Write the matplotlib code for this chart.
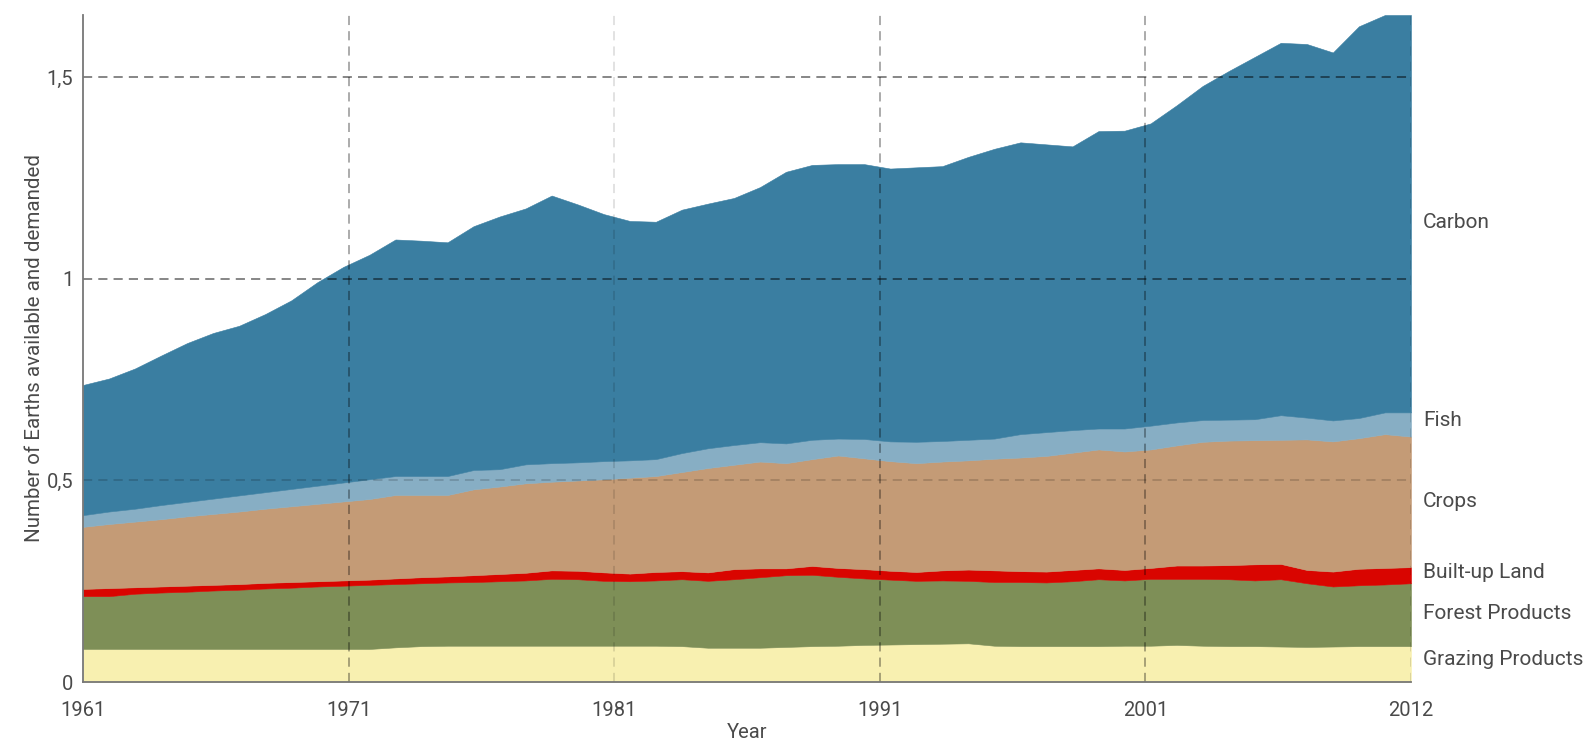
import numpy as np
import matplotlib
matplotlib.use("Agg")
import matplotlib.pyplot as plt
import matplotlib.transforms as mtransforms

plt.rcParams['font.family'] = ['Roboto', 'DejaVu Sans']

years = list(range(1961, 2013))

grazing = [0.082, 0.082, 0.082, 0.082, 0.082, 0.082, 0.082, 0.082, 0.082, 0.082,
           0.082, 0.082, 0.086, 0.089, 0.090, 0.090, 0.090, 0.090, 0.090, 0.090,
           0.090, 0.090, 0.090, 0.089, 0.085, 0.085, 0.085, 0.087, 0.089, 0.090,
           0.092, 0.093, 0.094, 0.095, 0.096, 0.090, 0.089, 0.089, 0.089, 0.089,
           0.090, 0.090, 0.092, 0.090, 0.089, 0.089, 0.088, 0.087, 0.088, 0.089,
           0.089, 0.089]

forest = [0.131, 0.131, 0.137, 0.140, 0.142, 0.145, 0.147, 0.150, 0.152, 0.155,
          0.157, 0.159, 0.157, 0.156, 0.157, 0.158, 0.160, 0.162, 0.166, 0.165,
          0.161, 0.160, 0.162, 0.166, 0.166, 0.170, 0.175, 0.178, 0.177, 0.171,
          0.165, 0.161, 0.157, 0.157, 0.155, 0.158, 0.159, 0.158, 0.161, 0.166,
          0.162, 0.166, 0.164, 0.166, 0.166, 0.163, 0.167, 0.158, 0.149, 0.151,
          0.153, 0.156]

builtup = [0.018, 0.020, 0.016, 0.015, 0.015, 0.014, 0.014, 0.014, 0.014, 0.013,
           0.013, 0.013, 0.014, 0.015, 0.015, 0.017, 0.018, 0.019, 0.021, 0.021,
           0.021, 0.019, 0.021, 0.020, 0.021, 0.025, 0.022, 0.017, 0.022, 0.022,
           0.023, 0.022, 0.022, 0.025, 0.028, 0.029, 0.027, 0.027, 0.028, 0.027,
           0.026, 0.027, 0.033, 0.033, 0.035, 0.040, 0.038, 0.033, 0.037, 0.041,
           0.041, 0.040]

crops = [0.154, 0.159, 0.163, 0.167, 0.172, 0.176, 0.180, 0.184, 0.188, 0.192,
         0.196, 0.200, 0.207, 0.204, 0.202, 0.213, 0.217, 0.222, 0.220, 0.224,
         0.231, 0.238, 0.238, 0.246, 0.259, 0.259, 0.265, 0.261, 0.265, 0.279,
         0.275, 0.272, 0.270, 0.270, 0.271, 0.277, 0.282, 0.287, 0.291, 0.295,
         0.294, 0.294, 0.298, 0.307, 0.309, 0.308, 0.308, 0.324, 0.323, 0.324,
         0.332, 0.324]

fish = [0.029, 0.031, 0.032, 0.035, 0.036, 0.038, 0.040, 0.041, 0.043, 0.045,
        0.047, 0.049, 0.047, 0.047, 0.047, 0.048, 0.043, 0.047, 0.046, 0.045,
        0.045, 0.043, 0.042, 0.047, 0.049, 0.049, 0.048, 0.049, 0.048, 0.042,
        0.048, 0.049, 0.053, 0.051, 0.051, 0.050, 0.058, 0.059, 0.056, 0.052,
        0.057, 0.059, 0.057, 0.054, 0.052, 0.052, 0.061, 0.054, 0.052, 0.050,
        0.054, 0.060]

carbon = [0.323, 0.330, 0.348, 0.371, 0.394, 0.411, 0.421, 0.442, 0.468, 0.505,
          0.535, 0.557, 0.587, 0.584, 0.580, 0.605, 0.627, 0.635, 0.664, 0.640,
          0.613, 0.594, 0.589, 0.604, 0.607, 0.613, 0.633, 0.674, 0.682, 0.681,
          0.682, 0.677, 0.681, 0.682, 0.702, 0.719, 0.724, 0.714, 0.704, 0.738,
          0.739, 0.750, 0.787, 0.829, 0.865, 0.899, 0.924, 0.927, 0.913, 0.972,
          0.986, 0.986]

series_names = ["Grazing Products", "Forest Products", "Built-up Land", "Crops", "Fish", "Carbon"]
series_colors = ["#f8f0b0", "#7e8f57", "#d90500", "#c49b76", "#87aec4", "#3a7ea1"]
label_y = [0.055, 0.171, 0.272, 0.449, 0.650, 1.139]

xtick_labels = ["1961", "1971", "1981", "1991", "2001", "2012"]
ytick_values = [0, 0.5, 1, 1.5]
ytick_labels = ["0", "0,5", "1", "1,5"]

fig = plt.figure(figsize=(15.89, 7.46), dpi=100)
ax = fig.add_axes([83 / 1589, 1 - 682 / 746, (1411 - 83) / 1589, (682 - 15) / 746])

ax.stackplot(years, grazing, forest, builtup, crops, fish, carbon,
             colors=series_colors, edgecolor='face', linewidth=0.4, zorder=1)

ax.set_xlim(years[0], years[-1])
ax.set_ylim(0, 1.655)

xticks = np.linspace(years[0], years[-1], len(xtick_labels))
ax.set_xticks(xticks)
ax.set_xticklabels(xtick_labels)
ax.set_yticks(ytick_values)
ax.set_yticklabels(ytick_labels)

text_color = "#4a4a4a"
ax.tick_params(axis='both', length=0, labelsize=14.5, colors=text_color)
ax.tick_params(axis='x', pad=14)
ax.tick_params(axis='y', pad=7)

# grid lines on top of areas
faint = {2, 5}
for k, xv in enumerate(xticks):
    if k == 0:
        continue
    a = 0.15 if k in faint else 0.42
    ax.axvline(xv, color='black', alpha=a, lw=1.1, dashes=(6, 4), zorder=3)
for yv in ytick_values[1:]:
    a = 0.2 if yv == 0.5 else 0.6
    ax.axhline(yv, color='black', alpha=a, lw=1.1, dashes=(6, 4), zorder=3)

for s in ['top', 'right']:
    ax.spines[s].set_visible(False)
for s in ['left', 'bottom']:
    ax.spines[s].set_color('#777777')
    ax.spines[s].set_linewidth(1.3)
    ax.spines[s].set_zorder(4)

ax.set_xlabel("Year", fontsize=14.5, color=text_color, labelpad=2)
ax.set_ylabel("Number of Earths available and demanded", fontsize=14.8, color=text_color, labelpad=2)

trans = mtransforms.blended_transform_factory(ax.transAxes, ax.transData)
x_lab = (1423 - 83) / (1411 - 83)
for name, yv in zip(series_names, label_y):
    ax.text(x_lab, yv, name, transform=trans, ha='left', va='center',
            fontsize=15, color=text_color)

fig.savefig("out.png", dpi=100)
